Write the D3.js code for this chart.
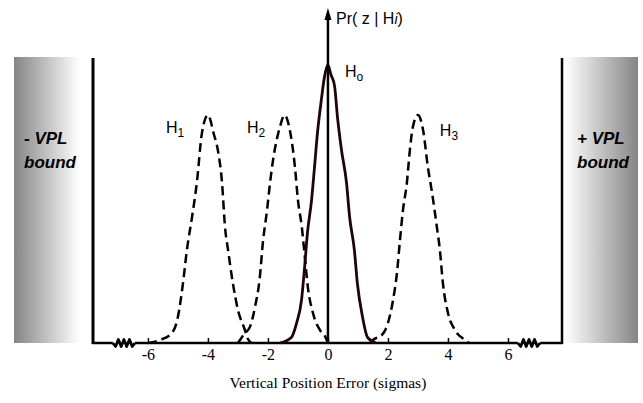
<!DOCTYPE html>
<html><head><meta charset="utf-8">
<script src="https://cdn.jsdelivr.net/npm/d3@7"></script>
<style>body{margin:0;background:#fff}</style>
</head><body>
<svg id="c" width="643" height="403"></svg>
<script>
// ---- data (x in sigmas, y = relative probability density) ----
const tickValues = [-6, -4, -2, 0, 2, 4, 6];
const tickLabels = ["-6", "-4", "-2", "0", "2", "4", "6"];
const h0 = [[-1.6,0],[-1.22,0.02],[-1.05,0.07],[-0.88,0.155],[-0.78,0.27],[-0.68,0.40],[-0.55,0.51],[-0.45,0.63],[-0.35,0.755],[-0.22,0.875],[-0.12,0.955],[0,1.0],[0.1,0.965],[0.22,0.925],[0.32,0.81],[0.45,0.695],[0.62,0.575],[0.72,0.455],[0.88,0.335],[0.98,0.215],[1.15,0.095],[1.32,0.02],[1.6,0]];
const h1 = [[-6.0,0],[-5.6,0.011],[-5.2,0.036],[-5.0,0.094],[-4.83,0.216],[-4.7,0.335],[-4.53,0.453],[-4.37,0.576],[-4.2,0.755],[-4.0,0.82],[-3.8,0.75],[-3.67,0.694],[-3.53,0.576],[-3.43,0.417],[-3.33,0.335],[-3.17,0.216],[-3.0,0.119],[-2.77,0.047],[-2.7,0.022],[-2.55,0]];
const h2 = [[-3.0,0],[-2.77,0.035],[-2.6,0.058],[-2.43,0.13],[-2.27,0.237],[-2.17,0.36],[-2.03,0.478],[-1.93,0.576],[-1.83,0.658],[-1.6,0.777],[-1.45,0.82],[-1.27,0.766],[-1.1,0.633],[-1.0,0.514],[-0.87,0.417],[-0.77,0.309],[-0.67,0.201],[-0.5,0.108],[-0.27,0.047],[-0.1,0.025],[0,0]];
const h3 = [[1.4,0],[1.5,0.011],[1.8,0.029],[2.0,0.072],[2.17,0.155],[2.3,0.252],[2.4,0.37],[2.5,0.478],[2.63,0.576],[2.73,0.694],[2.83,0.777],[3.0,0.82],[3.17,0.766],[3.33,0.633],[3.47,0.54],[3.63,0.417],[3.73,0.335],[3.83,0.216],[4.0,0.108],[4.23,0.047],[4.57,0.011],[4.7,0]];
const dashedSeries = [h1, h2, h3];
const labels = [["H","1",-5.4,0.755],["H","2",-2.7,0.755],["H","o",0.57,0.957],["H","3",3.73,0.745]];

// ---- drawing ----
const svg = d3.select("#c");
const x = d3.scaleLinear().domain([-7.83, 7.8]).range([93, 562]);
const y = d3.scaleLinear().domain([0, 1.2]).range([343, 343 - 1.2*278]);
const base = y(0);

const defs = svg.append("defs");
const gL = defs.append("linearGradient").attr("id","gl").attr("x1","0").attr("x2","1");
gL.append("stop").attr("offset","0").attr("stop-color","#858585");
gL.append("stop").attr("offset","1").attr("stop-color","#ffffff");
const gR = defs.append("linearGradient").attr("id","gr").attr("x1","0").attr("x2","1");
gR.append("stop").attr("offset","0").attr("stop-color","#ffffff");
gR.append("stop").attr("offset","1").attr("stop-color","#858585");

svg.append("rect").attr("x",14).attr("y",57).attr("width",66).attr("height",286).attr("fill","url(#gl)");
svg.append("rect").attr("x",565).attr("y",57).attr("width",73).attr("height",286).attr("fill","url(#gr)");

const bf = "'Liberation Sans', Arial, sans-serif";
function boundText(xp, t1) {
  const t = svg.append("text").attr("font-family",bf).attr("font-size",17)
    .attr("font-weight","bold").attr("font-style","italic").attr("fill","#000");
  t.append("tspan").attr("x",xp).attr("y",144).text(t1);
  t.append("tspan").attr("x",xp).attr("y",168).text("bound");
}
boundText(24, "- VPL");
boundText(577, "+ VPL");

// frame
svg.append("line").attr("x1",x(-7.83)).attr("x2",x(-7.83)).attr("y1",58).attr("y2",base+1).attr("stroke","#000").attr("stroke-width",3);
svg.append("line").attr("x1",x(7.8)).attr("x2",x(7.8)).attr("y1",58).attr("y2",base+1).attr("stroke","#000").attr("stroke-width",2.5);

// baseline with breaks
function seg(a,b){ svg.append("line").attr("x1",x(a)).attr("x2",x(b)).attr("y1",base).attr("y2",base).attr("stroke","#000").attr("stroke-width",2.5); }
seg(-7.85,-7.17); seg(-6.43,6.33); seg(7.07,7.82);
function squiggle(a,b){
  const n=8, p=[];
  for(let i=0;i<=n;i++){ p.push([x(a)+(x(b)-x(a))*i/n, base + (i%2 ? 3.5 : -3.5)]); }
  p[0][1]=base; p[n][1]=base;
  svg.append("path").attr("d",d3.line()(p)).attr("fill","none").attr("stroke","#000").attr("stroke-width",2.8).attr("stroke-linejoin","round");
}
squiggle(-7.17,-6.43); squiggle(6.33,7.07);

// axis ticks and labels
const ax = d3.axisBottom(x).tickValues(tickValues).tickSize(-5).tickSizeOuter(0)
  .tickFormat((d,i)=>tickLabels[i]);
const g = svg.append("g").attr("transform",`translate(0,${base})`).call(ax);
g.select(".domain").remove();
g.selectAll(".tick line").attr("stroke","#000").attr("stroke-width",1.5);
g.selectAll(".tick text").attr("font-family","'Liberation Serif', 'Times New Roman', serif").attr("font-size",16).attr("fill","#000").attr("dy","0.9em").attr("y",3);

// curves
const line = d3.line().x(d=>x(d[0])).y(d=>y(d[1])).curve(d3.curveMonotoneX);
dashedSeries.forEach(s=>{
  svg.append("path").attr("d",line(s)).attr("fill","none").attr("stroke","#000").attr("stroke-width",2.5).attr("stroke-dasharray","9,5");
});
svg.append("path").attr("d",line(h0)).attr("fill","none").attr("stroke","#1e0606").attr("stroke-width",2.8);

// y axis with arrow
svg.append("line").attr("x1",x(0)).attr("x2",x(0)).attr("y1",base).attr("y2",18).attr("stroke","#000").attr("stroke-width",2.5);
svg.append("path").attr("d",`M${x(0)},8 L${x(0)-3.5},20 L${x(0)+3.5},20 Z`).attr("fill","#000");

const pr = svg.append("text").attr("x",336).attr("y",24).attr("font-family",bf).attr("font-size",16).attr("fill","#000");
pr.append("tspan").text("Pr( z | H");
pr.append("tspan").attr("font-style","italic").attr("font-size",14).text("i");
pr.append("tspan").text(")");

labels.forEach(l=>{
  const t = svg.append("text").attr("x",x(l[2])).attr("y",y(l[3])).attr("font-family",bf).attr("font-size",16).attr("fill","#000");
  t.append("tspan").text(l[0]);
  t.append("tspan").attr("font-size",12).attr("dy",4).text(l[1]);
});

svg.append("text").attr("x",x(0)).attr("y",388).attr("text-anchor","middle")
  .attr("font-family","'Liberation Serif', 'Times New Roman', serif").attr("font-size",15.5).attr("fill","#000")
  .text("Vertical Position Error (sigmas)");
</script>
</body></html>
